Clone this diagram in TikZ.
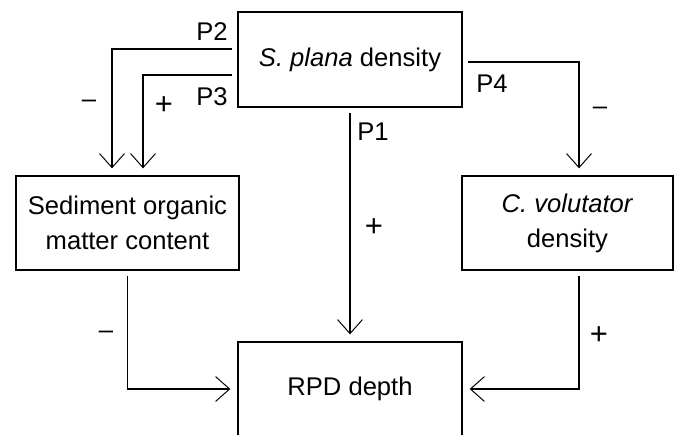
\documentclass[tikz,border=0pt]{standalone}
\usepackage{fontspec}
\setmainfont{Liberation Sans}
\usepackage{tikz}
\usetikzlibrary{
    positioning,
    calc,
    arrows.meta
}
\tikzset{
  box/.style = {
      draw,
      rectangle,
      line width=0.9pt,
      inner sep=0pt,
      align=center,
      minimum height=2.35cm
  },
  conn/.style = {
      draw,
      line width=0.85pt,
      -{Straight Barb[length=0.35cm,width=0.62cm,line width=0.7pt]},
      shorten >=0.175cm,
      shorten <=0.125cm
  },
  path label/.style = {
      inner sep=0pt
  },
  sign/.style = {
      inner sep=0pt
  },
  plus/.style = {
      sign,
      font=\fontsize{22pt}{24pt}\selectfont
  }
}

\begin{document}
\begin{tikzpicture}[x=0.025cm, y=0.025cm,
    font=\fontsize{18.2pt}{24.9pt}\selectfont]
    \useasboundingbox (0,0) rectangle (675,434);
    \clip (0,0) rectangle (675,434);
    % Boxes
    \node[box, minimum width=5.6cm, minimum height=2.375cm] (splana) at (350,374.5) {\textit{S. plana} density};
    \node[box, minimum width=5.575cm] (sediment) at (127.5,211) {Sediment organic\\matter content};
    \node[box, minimum width=5.275cm] (cvol) at (567.5,211) {\textit{C. volutator}\\density};
    \node[box, minimum width=5.6cm] (rpd) at (350,45) {RPD depth};
    % Edges
    \path[conn] ($(splana.west)+(0,10.5)$) -| ($(sediment.north)+(-15.5,0)$);
    \path[conn] ($(splana.west)+(0,-15.5)$) -| ($(sediment.north)+(15.5,0)$);
    \path[conn] ($(splana.east)+(0,-2.5)$) -| ($(cvol.north)+(11.5,0)$);
    \path[conn] (splana.south) -- (rpd.north);
    \path[conn] (sediment.south) |- (rpd.west);
    \path[conn] ($(cvol.south)+(11.5,0)$) |- (rpd.east);
    % Labels
    \node[path label] (p2) at (212,402) {P2};
    \node[path label] (p3) at (212,337) {P3};
    \node[path label] (p4) at (492,350) {P4};
    \node[path label] (p1) at (373,302) {P1};
    \node[sign] (s2) at (89,330) {–};
    \node[plus] (s3) at (164,328) {+};
    \node[sign] (s4) at (600,323) {–};
    \node[plus] (s1) at (374,206) {+};
    \node[sign] (s5) at (106,99) {–};
    \node[plus] (s6) at (599,98) {+};
\end{tikzpicture}
\end{document}
